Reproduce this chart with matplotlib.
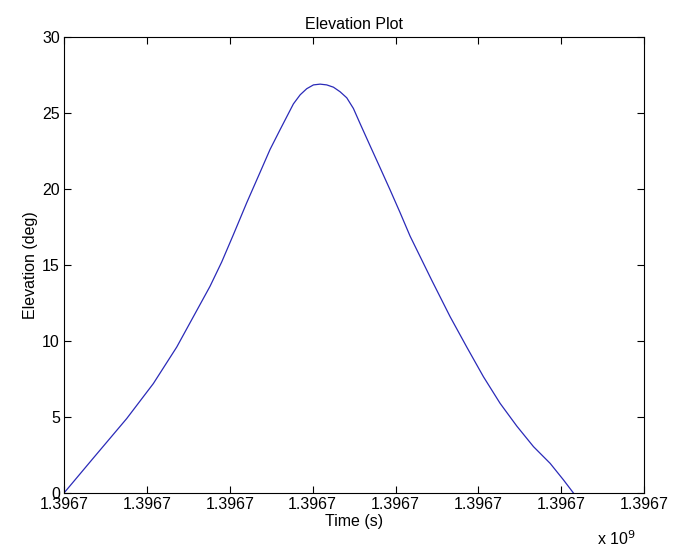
import numpy as np
import matplotlib.pyplot as plt
from matplotlib.ticker import MultipleLocator, FuncFormatter

plt.rcParams['font.family'] = ['Liberation Sans', 'DejaVu Sans']

# pass start epoch (s) and seconds since start
t0 = 1396700000
dt = [0, 354, 757, 1078, 1360, 1762, 1903, 2044, 2205, 2366, 2486, 2607,
      2768, 2850, 2929, 3010, 3090, 3170, 3251, 3331, 3412, 3492, 3573,
      3693, 3814, 3934, 4055, 4176, 4257, 4437, 4659, 4860, 5061, 5262,
      5464, 5665, 5866, 6027, 6147]
elev = [0.0, 2.3, 4.9, 7.2, 9.6, 13.6, 15.2, 17.0, 19.1, 21.1, 22.6, 23.9,
        25.6, 26.2, 26.6, 26.85, 26.9, 26.85, 26.7, 26.4, 26.0, 25.3, 24.3,
        22.85, 21.4, 19.95, 18.45, 16.9, 16.0, 14.0, 11.6, 9.6, 7.65, 5.9,
        4.4, 3.05, 1.95, 0.86, 0.0]

t = t0 + np.array(dt)

fig = plt.figure(figsize=(6.73, 5.55), dpi=100)
ax = fig.add_axes([0.0951, 0.1117, 0.862, 0.8216])
ax.plot(t, elev, color='#2a2ab8', lw=0.9)

ax.set_xlim(t0, t0 + 7000)
ax.set_ylim(0, 30)
ax.xaxis.set_major_locator(MultipleLocator(1000))
ax.xaxis.set_major_formatter(FuncFormatter(lambda v, p: '%.4f' % (v / 1e9)))
ax.yaxis.set_major_locator(MultipleLocator(5))
ax.tick_params(direction='in', length=5, width=0.8, top=True, right=True,
               labelsize=11.5, pad=3)
for s in ax.spines.values():
    s.set_linewidth(0.8)

ax.set_title('Elevation Plot', fontsize=11.5, pad=6)
ax.set_xlabel('Time (s)', fontsize=11.5, labelpad=1)
ax.set_ylabel('Elevation (deg)', fontsize=11.5, labelpad=3)
fig.text(0.887, 0.018, r'x 10$^9$', fontsize=11.5)

fig.savefig('out.png', dpi=100)
